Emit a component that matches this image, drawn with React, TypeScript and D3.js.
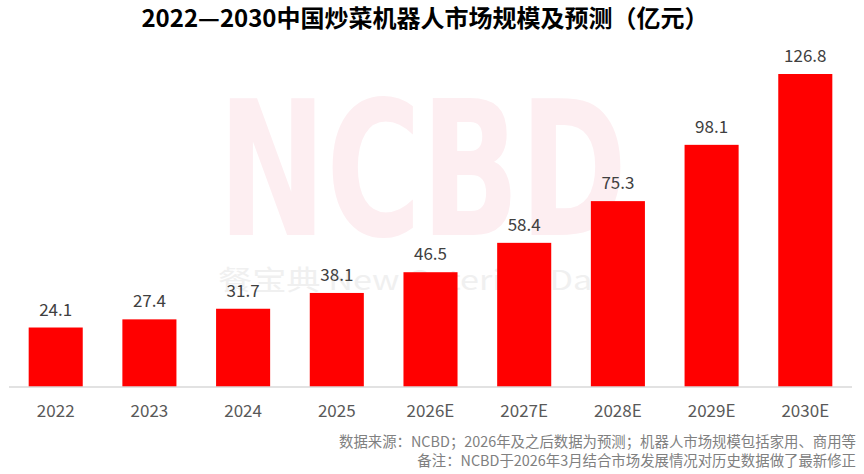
import * as d3 from "d3";

const width = 864;
const height = 474;
const margin = { top: 74, right: 12, bottom: 87, left: 9 };

const years = ["2022", "2023", "2024", "2025", "2026E", "2027E", "2028E", "2029E", "2030E"];
const sizes = [24.1, 27.4, 31.7, 38.1, 46.5, 58.4, 75.3, 98.1, 126.8];

const title = "2022—2030中国炒菜机器人市场规模及预测（亿元）";
const notes = [
  "数据来源：NCBD；2026年及之后数据为预测；机器人市场规模包括家用、商用等",
  "备注：NCBD于2026年3月结合市场发展情况对历史数据做了最新修正",
];

const font = "'Microsoft YaHei', 'Noto Sans CJK SC', 'Noto Sans', sans-serif";

const App = () => {
  const x = d3
    .scaleBand()
    .domain(years)
    .range([margin.left, width - margin.right])
    .paddingInner(0.423)
    .paddingOuter(0.21);

  const y = d3
    .scaleLinear()
    .domain([0, 126.8])
    .range([height - margin.bottom, margin.top]);

  const base = y(0);

  return (
    <div style={{ position: "absolute", left: 0, top: 0 }}>
      <svg width={width} height={height} style={{ display: "block", background: "#fff" }}>
        {/* watermark */}
        <text
          x={218}
          y={235}
          textLength={409}
          lengthAdjust="spacingAndGlyphs"
          fontSize={188}
          fontWeight="bold"
          fontFamily="'DejaVu Sans', sans-serif"
          fill="#fdeef1"
        >
          NCBD
        </text>
        <text
          x={218}
          y={290}
          textLength={405}
          lengthAdjust="spacingAndGlyphs"
          fontSize={27}
          fontFamily={font}
          fill="#f0f0f0"
        >
          餐宝典 New Catering Data
        </text>

        <text
          x={425}
          y={27}
          textAnchor="middle"
          fontSize={24}
          fontWeight="bold"
          fontFamily={font}
          fill="#000"
        >
          {title}
        </text>

        {years.map((yr, i) => (
          <g key={yr}>
            <rect
              x={x(yr)}
              y={y(sizes[i])}
              width={x.bandwidth()}
              height={base - y(sizes[i])}
              fill="#ff0000"
            />
            <text
              x={x(yr)! + x.bandwidth() / 2}
              y={y(sizes[i]) - 12}
              textAnchor="middle"
              fontSize={17}
              fontFamily={font}
              fill="#404040"
            >
              {sizes[i]}
            </text>
            <text
              x={x(yr)! + x.bandwidth() / 2}
              y={417}
              textAnchor="middle"
              fontSize={17}
              fontFamily={font}
              fill="#595959"
            >
              {yr}
            </text>
          </g>
        ))}

        <line
          x1={margin.left}
          x2={width - margin.right}
          y1={base}
          y2={base}
          stroke="#d9d9d9"
          strokeWidth={1.5}
        />

        {notes.map((t, i) => (
          <text
            key={i}
            x={856}
            y={447 + i * 19}
            textAnchor="end"
            fontSize={14.4}
            fontFamily={font}
            fill="#808080"
          >
            {t}
          </text>
        ))}
      </svg>
    </div>
  );
};

export default App;
